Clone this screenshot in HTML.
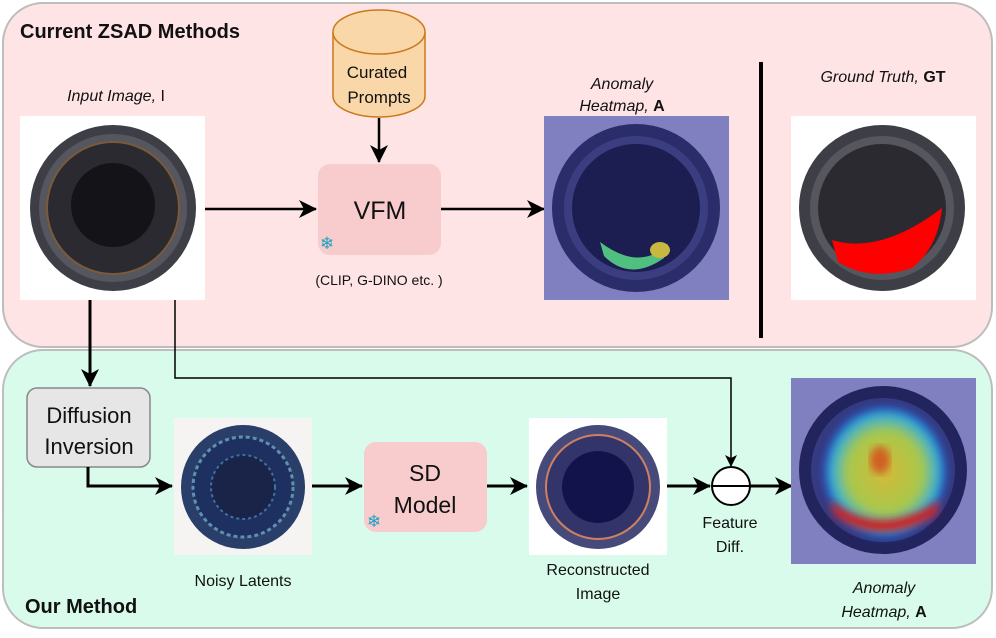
<!DOCTYPE html>
<html><head><meta charset="utf-8"><style>
html,body{margin:0;padding:0;background:#fff;}
text{font-family:"Liberation Sans",sans-serif;fill:#111;}
</style></head><body>
<svg width="996" height="633" viewBox="0 0 996 633" xmlns="http://www.w3.org/2000/svg">
<defs>
<marker id="ah" markerWidth="12" markerHeight="12" refX="11" refY="6" orient="auto" markerUnits="userSpaceOnUse"><path d="M0,0 L12,6 L0,12 L3,6 Z" fill="#000"/></marker>
<marker id="ahb" markerWidth="18" markerHeight="18" refX="17" refY="9" orient="auto" markerUnits="userSpaceOnUse"><path d="M0,0 L18,9 L0,18 L5,9 Z" fill="#000"/></marker>
<radialGradient id="hm" cx="0.5" cy="0.5" r="0.5"><stop offset="0" stop-color="#d4b93a"/><stop offset="0.6" stop-color="#a8c84a"/><stop offset="0.85" stop-color="#38b0d0"/><stop offset="1" stop-color="#2040c0"/></radialGradient>
<filter id="bl"><feGaussianBlur stdDeviation="4"/></filter>
</defs>
<rect x="3" y="3" width="989" height="344" rx="40" fill="#ffe4e6" stroke="#bdbdbd" stroke-width="2"/>
<rect x="3" y="350" width="989" height="278" rx="40" fill="#d9fbec" stroke="#bdbdbd" stroke-width="2"/>
<text x="20" y="38" font-size="20" font-weight="bold">Current ZSAD Methods</text>
<text x="25" y="613" font-size="20" font-weight="bold">Our Method</text>

<text x="116" y="101" font-size="16" font-style="italic" text-anchor="middle">Input Image, <tspan font-style="normal">I</tspan></text>
<rect x="20" y="116" width="185" height="184" fill="#fff"/>
<circle cx="113" cy="208" r="83" fill="#3d3e46"/>
<circle cx="113" cy="208" r="74" fill="#55565e"/>
<circle cx="113" cy="208" r="66" fill="#2a2a30" stroke="#7a5a3a" stroke-width="2"/>
<circle cx="113" cy="205" r="42" fill="#141418"/>

<path d="M333,32 L333,96 A46,21 0 0 0 425,96 L425,32" fill="#fad7a8" stroke="#c97a1a" stroke-width="1.5"/>
<ellipse cx="379" cy="32" rx="46" ry="22" fill="#fad7a8" stroke="#c97a1a" stroke-width="1.5"/>
<text x="377" y="78" font-size="17" text-anchor="middle">Curated</text>
<text x="379" y="103" font-size="17" text-anchor="middle">Prompts</text>
<line x1="379" y1="118" x2="379" y2="162" stroke="#000" stroke-width="2.5" marker-end="url(#ahb)"/>
<rect x="318" y="164" width="123" height="91" rx="12" fill="#f8cccc"/>
<text x="380" y="219" font-size="25" text-anchor="middle">VFM</text>
<text x="327" y="249" font-size="17" text-anchor="middle" style="fill:#1aa0c0">❄</text>
<text x="379" y="285" font-size="14" text-anchor="middle">(CLIP, G-DINO etc. )</text>
<line x1="205" y1="209" x2="316" y2="209" stroke="#000" stroke-width="2.5" marker-end="url(#ahb)"/>
<line x1="441" y1="209" x2="544" y2="209" stroke="#000" stroke-width="2.5" marker-end="url(#ahb)"/>

<text x="622" y="89" font-size="16" font-style="italic" text-anchor="middle">Anomaly</text>
<text x="622" y="111" font-size="16" font-style="italic" text-anchor="middle">Heatmap, <tspan font-style="normal" font-weight="bold">A</tspan></text>
<rect x="544" y="116" width="185" height="184" fill="#8080c0"/>
<circle cx="636" cy="208" r="84" fill="#2a2d6a"/>
<circle cx="636" cy="208" r="72" fill="#3a3e80"/>
<circle cx="636" cy="208" r="64" fill="#1c1d50"/>
<path d="M600,242 Q640,272 668,244 L664,258 Q630,282 604,256 Z" fill="#50c080"/>
<ellipse cx="660" cy="250" rx="10" ry="8" fill="#c8b840"/>

<line x1="761" y1="62" x2="761" y2="338" stroke="#000" stroke-width="4"/>
<text x="883" y="82" font-size="16" font-style="italic" text-anchor="middle">Ground Truth, <tspan font-style="normal" font-weight="bold">GT</tspan></text>
<rect x="791" y="116" width="185" height="184" fill="#fff"/>
<circle cx="882" cy="208" r="83" fill="#3d3e46"/>
<circle cx="882" cy="208" r="72" fill="#55565e"/>
<circle cx="882" cy="208" r="64" fill="#2a2a30"/>
<path d="M832,240 Q880,255 942,208 Q938,248 912,268 Q870,282 838,262 Z" fill="#ff0000"/>

<line x1="90" y1="300" x2="90" y2="386" stroke="#000" stroke-width="3" marker-end="url(#ahb)"/>
<polyline points="175,300 175,378 731,378 731,466" fill="none" stroke="#000" stroke-width="1.5" marker-end="url(#ah)"/>
<rect x="27" y="388" width="123" height="79" rx="10" fill="#e6e6e6" stroke="#888" stroke-width="1.5"/>
<text x="89" y="423" font-size="22" text-anchor="middle">Diffusion</text>
<text x="89" y="454" font-size="22" text-anchor="middle">Inversion</text>
<polyline points="88,467 88,486 172,486" fill="none" stroke="#000" stroke-width="3" marker-end="url(#ahb)"/>

<rect x="174" y="418" width="138" height="137" fill="#f6f3f3"/>
<circle cx="243" cy="487" r="62" fill="#2a3e6a"/>
<circle cx="243" cy="487" r="50" fill="#1e3060" stroke="#6090b0" stroke-width="3" stroke-dasharray="4 3"/>
<circle cx="243" cy="487" r="32" fill="#1a2448" stroke="#4070a0" stroke-width="2" stroke-dasharray="3 3"/>
<text x="243" y="586" font-size="16" text-anchor="middle">Noisy Latents</text>
<line x1="312" y1="486" x2="362" y2="486" stroke="#000" stroke-width="3" marker-end="url(#ahb)"/>
<rect x="364" y="442" width="123" height="90" rx="12" fill="#f8cccc"/>
<text x="425" y="481" font-size="23" text-anchor="middle">SD</text>
<text x="425" y="513" font-size="23" text-anchor="middle">Model</text>
<text x="374" y="527" font-size="17" text-anchor="middle" style="fill:#1aa0c0">❄</text>
<line x1="487" y1="486" x2="527" y2="486" stroke="#000" stroke-width="3" marker-end="url(#ahb)"/>

<rect x="529" y="418" width="138" height="137" fill="#fff"/>
<circle cx="598" cy="487" r="62" fill="#464a7a"/>
<circle cx="598" cy="487" r="52" fill="#33356a" stroke="#d08060" stroke-width="2"/>
<circle cx="598" cy="487" r="36" fill="#11134a"/>
<text x="598" y="575" font-size="16" text-anchor="middle">Reconstructed</text>
<text x="598" y="599" font-size="16" text-anchor="middle">Image</text>

<line x1="667" y1="486" x2="710" y2="486" stroke="#000" stroke-width="3" marker-end="url(#ahb)"/>
<circle cx="731" cy="486" r="19" fill="#fff" stroke="#000" stroke-width="2"/>
<line x1="712" y1="486" x2="750" y2="486" stroke="#000" stroke-width="2"/>
<line x1="750" y1="486" x2="792" y2="486" stroke="#000" stroke-width="3" marker-end="url(#ahb)"/>
<text x="730" y="528" font-size="16" text-anchor="middle">Feature</text>
<text x="730" y="552" font-size="16" text-anchor="middle">Diff.</text>

<rect x="791" y="378" width="185" height="186" fill="#8080c0"/>
<circle cx="883" cy="470" r="84" fill="#22245e"/>
<circle cx="883" cy="470" r="72" fill="#363a80"/>
<ellipse cx="885" cy="472" rx="62" ry="66" fill="url(#hm)" filter="url(#bl)"/>
<path d="M830,500 Q880,540 940,500 L936,515 Q880,548 834,515 Z" fill="#d02020" filter="url(#bl)"/>
<ellipse cx="880" cy="460" rx="10" ry="14" fill="#d06020" filter="url(#bl)"/>
<text x="884" y="593" font-size="16" font-style="italic" text-anchor="middle">Anomaly</text>
<text x="884" y="617" font-size="16" font-style="italic" text-anchor="middle">Heatmap, <tspan font-style="normal" font-weight="bold">A</tspan></text>
</svg>
</body></html>
